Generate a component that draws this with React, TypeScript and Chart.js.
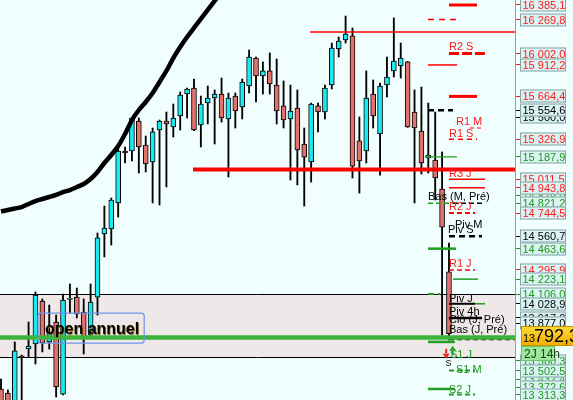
import React, { useEffect, useRef } from 'react';
import { Chart, registerables } from 'chart.js';

Chart.register(...registerables);

// ---------- DATA ----------
const OPEN = [13357,13325,13200,13617,13672,13712,14051,13728,13885,13317,14063,14082,13964,13783,14082,14579,14619,14824,15234,15234,15470,15281,15147,15399,15470,15423,15510,15683,15730,15439,15612,15652,15683,15486,15667,15581,15746,15967,15825,15865,15754,15589,15486,15573,15289,15147,15589,15541,15754,16038,16109,16141,15313,15234,15683,15368,15754,15865,15904,15936,15541,15391,15179,15163,14934,14280];
const HIGH = [13436,13349,13728,13625,13885,14122,14067,14019,13940,14106,14185,14153,14067,14185,14587,14800,14863,15257,15265,15502,15494,15352,15415,15478,15541,15604,15699,15730,15801,15667,15746,15715,15809,15691,15691,15801,16030,15975,15936,16007,15959,15786,15754,15715,15415,15612,15612,15754,16085,16133,16298,16204,15502,15865,15794,15770,15975,16283,16085,15940,15715,15738,15612,15541,15226,14508];
const LOW = [13239,13231,13190,13231,13609,13554,13649,13672,13294,13310,13956,13917,13633,13767,13940,14398,14492,14713,15139,15155,15060,15068,14824,14808,14950,15344,15399,15494,15395,15265,15447,15289,15462,15029,15415,15486,15691,15620,15683,15683,15447,15415,15005,14966,14800,14989,15384,15486,15723,15975,16085,15021,14902,15139,15415,15044,15660,15817,15809,15420,14824,15052,15060,14847,13783,13743];
const CLOSE = [13254,13246,13657,13601,13696,14098,13720,13798,13373,14059,14071,13948,13767,14043,14548,14626,14847,15234,15218,15494,15265,15131,15384,15470,15447,15494,15675,15723,15399,15604,15652,15683,15494,15652,15549,15778,15975,15825,15865,15762,15549,15478,15549,15242,15186,15604,15541,15730,16046,16101,16156,15115,15155,15652,15510,15746,15817,15943,15967,15423,15415,15139,15202,15021,14634,13792.3];
const MA = [14757,14769,14780,14792,14816,14839,14855,14871,14887,14910,14926,14950,14974,15013,15068,15139,15202,15273,15368,15478,15557,15620,15691,15778,15865,15967,16054,16133,16204,16275,16346,16417,16488];

const CURRENT_PRICE = 13792.3;
const ZONE = [14106.0, 13609];

// horizontal levels: price, from index, to index
const LEVEL_PRICE = [16385.1,16269.8,16172,16002.0,15912.2,15664.4,15554.6,15415,15326.9,15187.9,15088,15011.5,14943.8,14821.2,14821.2,14744.5,14560.7,14463.6,14295.9,14223.1,14106.0,14028.9,14028.9,13917,13763,13748,13728,13502.5,13357,13313.3];
const LEVEL_FROM = [65.0,61.96,44.84,65.0,61.96,65.0,61.96,68.05,65.0,61.5,27.86,65.0,65.0,61.96,65.58,65.0,65.0,61.96,65.0,65.58,61.96,65.0,68.78,65.0,-0.2,65.0,61.96,65.0,61.96,65.0];
const LEVEL_TO = [69.07,66.02,74.6,70.23,66.16,69.07,65.58,69.94,69.07,66.16,74.6,70.23,70.23,65.58,69.79,68.78,69.79,66.02,68.78,69.21,63.7,68.78,70.23,69.79,74.6,74.6,65.87,68.78,65.87,68.78];
const LEVEL_KIND = ['r','r','r','r','r','r','k','r','r','g','r','r','r','g','k','r','k','g','r','g','g','k','g','k','G','k','g','g','g','g'];

// pivot texts
const NOTE_TEXT = ['R2 S','R1 M','R1 S','R3 J','Bas (M, Pré)','R2 J','Piv M','Piv S','R1 J','Piv J','Piv 4h','Clô (J, Pré)','Bas (J, Pré)','S1 J','S','S1 M','S2 J'];
const NOTE_X = [65.0,66.02,65.0,65.0,61.96,65.0,65.87,64.86,65.0,65.0,65.0,65.0,65.0,65.15,64.5,66.02,65.0];
const NOTE_PRICE = [16030,15439,15344,15029,14847,14768,14626,14587,14319,14043,13940,13877,13798,13601,13538,13483,13325];
const NOTE_KIND = ['r','r','r','r','k','r','k','k','r','k','k','k','k','g','k','g','g'];

const ANNUAL_TEXT = 'open annuel';
const ANNUAL_X = 6.38;
const ANNUAL_PRICE = 13790;

// right axis labels
const AXIS_VALUES = [15500,14879,13917,13877,13580.3,13432.4,16385.1,16269.8,16002.0,15912.2,15664.4,15554.6,15326.9,15187.9,15011.5,14943.8,14821.2,14744.5,14560.7,14463.6,14295.9,14223.1,14106.0,14028.9,13502.5,13372.6,13313.3];
const AXIS_KIND = ['k','g','k','k','g','g','r','r','r','r','r','k','r','g','r','r','g','r','k','g','r','g','g','k','g','g','g'];
const TIME_LABEL = '2J 14h';

const Y_MIN = 13270.1;
const Y_MAX = 16424.5;
const X_MIN = -0.145;
const X_MAX = 74.58;

// ---------- STYLES ----------
const COLORS: Record<string, string> = { r: '#ff0000', g: '#1f9e1f', k: '#000000', G: '#3cb43c' };
const TEXT_COLORS: Record<string, string> = { r: '#ff1a1a', g: '#1a9a1a', k: '#000000' };
const LEVEL_WIDTH = [3,1.5,1.5,3,1.5,3,2.5,1.2,1.5,1.2,4,1.5,1.5,1.5,1.5,2,2.5,2.5,1.5,1.5,2,2,1.5,2.5,4.5,1.5,2.5,2,2.5,2];
const LEVEL_DASH = [[],[6,5],[],[10,3],[],[],[6,4],[4,3],[5,4],[],[],[],[],[5,3],[5,3],[5,3],[6,4],[],[5,3],[],[6,4],[],[],[],[],[5,3],[],[5,3],[],[5,3]];
const UP = '#19e9f2';
const DOWN = '#e2716c';
const BG = '#f1fefe';
const FONT = '"Liberation Sans", Arial, sans-serif';

const fmt = (v: number) => {
  const [i, d] = v.toFixed(1).split('.');
  return i.replace(/\B(?=(\d{3})+(?!\d))/g, ' ') + ',' + d;
};

const overlay = {
  id: 'overlay',
  beforeDraw(chart: any) {
    const { ctx } = chart;
    ctx.save();
    ctx.fillStyle = BG;
    ctx.fillRect(0, 0, chart.width, chart.height);
    ctx.restore();
  },
  beforeDatasetsDraw(chart: any) {
    const { ctx, chartArea } = chart;
    const y = chart.scales.y;
    const t = y.getPixelForValue(ZONE[0]);
    const b = y.getPixelForValue(ZONE[1]);
    ctx.save();
    ctx.fillStyle = '#eee8e8';
    ctx.fillRect(chartArea.left, t, chartArea.right - chartArea.left, b - t);
    ctx.strokeStyle = '#000';
    ctx.lineWidth = 1;
    ctx.beginPath();
    ctx.moveTo(chartArea.left, Math.round(t) + 0.5);
    ctx.lineTo(chartArea.right, Math.round(t) + 0.5);
    ctx.moveTo(chartArea.left, Math.round(b) + 0.5);
    ctx.lineTo(chartArea.right, Math.round(b) + 0.5);
    ctx.stroke();
    ctx.restore();
  },
  afterDatasetsDraw(chart: any) {
    const { ctx } = chart;
    const xs = chart.scales.x;
    const ys = chart.scales.y;
    ctx.save();
    ctx.textBaseline = 'alphabetic';
    NOTE_TEXT.forEach((txt, i) => {
      ctx.fillStyle = TEXT_COLORS[NOTE_KIND[i]];
      ctx.font = (txt === 'S' ? '9px ' : '11px ') + FONT;
      ctx.fillText(txt, xs.getPixelForValue(NOTE_X[i]), ys.getPixelForValue(NOTE_PRICE[i]));
    });
    // arrows
    const ax = xs.getPixelForValue(64.6);
    const ay = ys.getPixelForValue(13620);
    ctx.fillStyle = '#e03030';
    ctx.beginPath();
    ctx.moveTo(ax - 3.5, ay - 2); ctx.lineTo(ax + 3.5, ay - 2); ctx.lineTo(ax, ay + 3); ctx.closePath(); ctx.fill();
    ctx.fillRect(ax - 1, ay - 7, 2, 5);
    ctx.fillStyle = '#22aa22';
    ctx.beginPath();
    ctx.moveTo(ax + 3, ay - 5); ctx.lineTo(ax + 10, ay - 5); ctx.lineTo(ax + 6.5, ay - 10); ctx.closePath(); ctx.fill();
    ctx.fillRect(ax + 5.5, ay - 5, 2, 5);
    // open annuel
    const px = xs.getPixelForValue(ANNUAL_X);
    const py = ys.getPixelForValue(ANNUAL_PRICE);
    ctx.font = 'bold 16px ' + FONT;
    const w = ctx.measureText(ANNUAL_TEXT).width;
    ctx.strokeStyle = '#6f95e8';
    ctx.lineWidth = 1.2;
    ctx.beginPath();
    (ctx as any).roundRect(px - 7, py - 21, w + 12, 30, 3);
    ctx.stroke();
    ctx.fillStyle = '#8a6a20';
    ctx.fillText(ANNUAL_TEXT, px + 0.8, py + 0.8);
    ctx.fillStyle = '#000';
    ctx.fillText(ANNUAL_TEXT, px, py);
    ctx.restore();
  },
  afterDraw(chart: any) {
    const { ctx, chartArea } = chart;
    const ys = chart.scales.y;
    const left = chartArea.right + 5;
    ctx.save();
    ctx.font = '11px ' + FONT;
    ctx.textBaseline = 'middle';
    AXIS_VALUES.forEach((v, i) => {
      const cy = Math.round(ys.getPixelForValue(v));
      ctx.fillStyle = '#dbf3f3';
      ctx.fillRect(left, cy - 6.5, 46, 13);
      ctx.strokeStyle = '#86a4a4';
      ctx.lineWidth = 1;
      ctx.strokeRect(left + 0.5, cy - 6, 45, 12);
      ctx.fillStyle = TEXT_COLORS[AXIS_KIND[i]];
      ctx.fillText(fmt(v), left + 2.5, cy + 0.5);
    });
    // current price box
    const cy = ys.getPixelForValue(CURRENT_PRICE);
    const top = Math.round(cy) - 8;
    const g = ctx.createLinearGradient(0, top, 0, top + 20);
    g.addColorStop(0, '#ffd93a');
    g.addColorStop(1, '#f2ac00');
    ctx.fillStyle = g;
    ctx.fillRect(left + 1, top, chart.width - left, 20);
    ctx.strokeStyle = '#c98f00';
    ctx.strokeRect(left + 1.5, top + 0.5, chart.width - left, 19);
    ctx.fillStyle = '#000';
    ctx.textBaseline = 'alphabetic';
    ctx.font = '11px ' + FONT;
    const parts = fmt(CURRENT_PRICE).split(' ');
    ctx.fillText(parts[0], left + 3, top + 16);
    ctx.font = '18px ' + FONT;
    ctx.fillText(parts.slice(1).join(' '), left + 14, top + 16);
    // time box
    const tt = top + 20;
    ctx.fillStyle = '#9ee89e';
    ctx.fillRect(left + 1, tt, 34, 15);
    ctx.strokeStyle = '#6cc86c';
    ctx.strokeRect(left + 1.5, tt + 0.5, 33, 14);
    ctx.fillStyle = '#164016';
    ctx.font = '12px ' + FONT;
    ctx.fillText(TIME_LABEL, left + 4, tt + 12);
    ctx.restore();
  },
};

export default function App() {
  const ref = useRef<HTMLCanvasElement>(null);
  useEffect(() => {
    if (!ref.current) return;
    const idx = OPEN.map((_, i) => i);
    const bodyColors = idx.map((i) => (CLOSE[i] >= OPEN[i] ? UP : DOWN));
    const levelSets = LEVEL_PRICE.map((p, i) => ({
      type: 'line' as const,
      data: [ { x: LEVEL_FROM[i], y: p }, { x: LEVEL_TO[i], y: p } ],
      borderColor: COLORS[LEVEL_KIND[i]],
      borderWidth: LEVEL_WIDTH[i],
      borderDash: LEVEL_DASH[i],
      pointRadius: 0,
      order: 0,
    }));
    const chart = new Chart(ref.current, {
      type: 'bar',
      data: {
        datasets: [
          ...levelSets,
          {
            type: 'line',
            data: MA.map((v, i) => ({ x: i, y: v })),
            borderColor: '#000',
            borderWidth: 4.5,
            pointRadius: 0,
            tension: 0.3,
            order: 1,
          },
          {
            type: 'bar',
            data: idx.map((i) => ({ x: i, y: [Math.min(OPEN[i], CLOSE[i]), Math.max(OPEN[i], CLOSE[i])] })),
            backgroundColor: bodyColors,
            borderColor: '#000',
            borderWidth: 1,
            borderSkipped: false,
            barThickness: 5,
            grouped: false,
            order: 2,
          },
          {
            type: 'bar',
            data: idx.map((i) => ({ x: i, y: [LOW[i], HIGH[i]] })),
            backgroundColor: '#000',
            borderWidth: 0,
            barThickness: 1.2,
            grouped: false,
            order: 3,
          },
        ] as any,
      },
      options: {
        animation: false,
        responsive: false,
        devicePixelRatio: 1,
        layout: { padding: 0 },
        plugins: { legend: { display: false }, tooltip: { enabled: false } },
        scales: {
          x: { type: 'linear', display: false, min: X_MIN, max: X_MAX, offset: false },
          y: {
            type: 'linear',
            position: 'right',
            min: Y_MIN,
            max: Y_MAX,
            offset: false,
            afterBuildTicks: (scale: any) => {
              scale.ticks = AXIS_VALUES.map((v) => ({ value: v }));
            },
            afterFit: (scale: any) => {
              scale.width = 58;
            },
            ticks: { display: false },
            grid: {
              drawOnChartArea: false,
              drawTicks: true,
              tickLength: 5,
              color: (c: any) => TEXT_COLORS[AXIS_KIND[c.index]] || '#000',
            },
            border: { display: true, color: '#8fa3a3', width: 1 },
          },
        },
      } as any,
      plugins: [overlay],
    });
    return () => chart.destroy();
  }, []);
  return (
    <div style={{ position: 'absolute', left: 0, top: 0, width: 573, height: 400 }}>
      <canvas ref={ref} width={573} height={400} style={{ display: 'block' }} />
    </div>
  );
}
